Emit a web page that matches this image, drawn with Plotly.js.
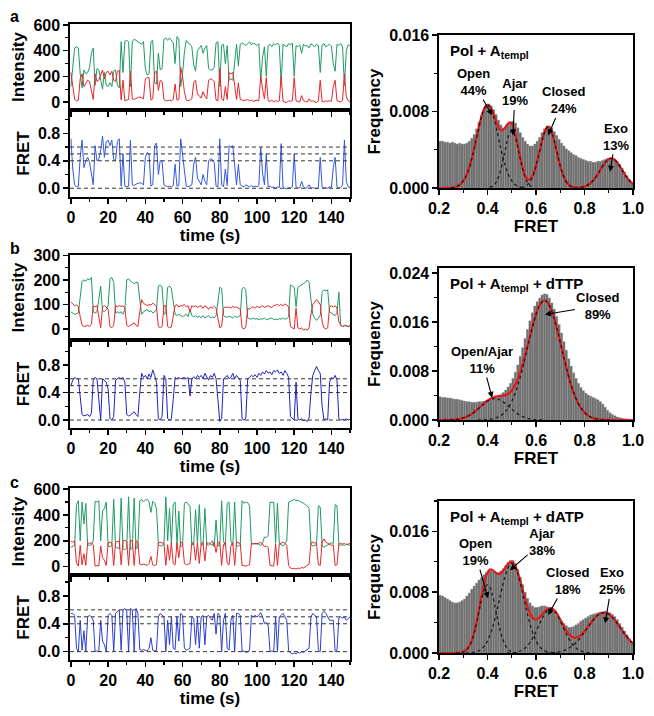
<!DOCTYPE html>
<html><head><meta charset="utf-8">
<script src="https://cdn.plot.ly/plotly-3.0.1.min.js"></script>
<style>html,body{margin:0;padding:0;background:#fff}#chart{width:654px;height:716px}</style>
</head><body><div id="chart"></div>
<script>
// ---------- time traces (1 s sampling, t = 0..150 s) ----------
const aGreen = [120,250,420,430,420,220,110,250,220,230,
 270,380,420,130,260,250,180,100,230,130,
 120,150,120,240,250,130,110,470,230,475,
 480,470,120,470,490,480,470,460,450,470,
 260,210,220,470,480,150,140,380,250,260,
 490,500,480,500,480,460,300,510,490,120,
 220,390,480,460,450,430,290,240,400,420,
 440,380,420,440,260,250,250,270,460,470,
 120,440,450,300,440,170,180,170,320,450,
 280,450,460,450,440,455,470,445,460,450,
 440,455,160,350,430,200,440,450,430,455,
 445,460,440,140,450,440,430,455,445,460,
 200,440,430,445,380,450,435,440,420,455,
 445,430,450,440,230,445,455,430,440,450,
 435,300,240,450,440,455,430,130,400,445,
 440];
const aRed = [230,100,20,10,15,180,220,120,150,170,
 160,90,20,220,160,170,220,250,180,230,
 240,210,240,170,160,240,245,15,170,10,
 15,20,240,25,20,30,35,40,35,25,
 180,190,190,15,25,230,240,90,170,160,
 20,10,10,15,10,20,140,15,20,270,
 200,80,15,10,15,25,150,170,60,50,
 30,80,45,25,170,180,175,160,15,10,
 260,25,10,120,20,230,220,230,130,20,
 150,20,15,10,15,20,10,15,5,10,
 15,10,200,100,25,190,10,5,15,0,
 10,5,10,200,5,0,-5,10,5,10,
 190,10,5,0,50,10,5,0,25,5,
 10,0,-5,10,170,5,0,10,5,10,
 5,120,170,10,5,0,15,220,40,10,
 5];
const aFret = [0.72,0.28,0.05,0.02,0.03,0.45,0.70,0.30,0.40,0.45,
 0.38,0.20,0.05,0.62,0.40,0.42,0.55,0.76,0.45,0.68,
 0.70,0.62,0.70,0.42,0.40,0.68,0.72,0.03,0.50,0.03,
 0.02,0.03,0.70,0.05,0.04,0.06,0.07,0.08,0.07,0.05,
 0.45,0.52,0.50,0.03,0.05,0.62,0.66,0.20,0.40,0.40,
 0.05,0.03,0.02,0.03,0.02,0.04,0.35,0.03,0.04,0.72,
 0.50,0.20,0.03,0.02,0.03,0.05,0.35,0.45,0.15,0.10,
 0.05,0.20,0.10,0.05,0.40,0.43,0.42,0.38,0.03,0.02,
 0.72,0.05,0.02,0.28,0.04,0.62,0.60,0.62,0.30,0.05,
 0.35,0.05,0.03,0.02,0.05,0.03,0.02,0.04,0.02,0.03,
 0.02,0.04,0.60,0.22,0.05,0.50,0.02,0.03,0.01,0.02,
 0.00,0.02,0.01,0.65,0.02,0.00,-0.01,0.01,0.00,0.02,
 0.50,0.02,0.00,0.01,0.10,0.02,0.00,0.01,0.05,0.00,
 0.01,0.00,-0.01,0.02,0.45,0.02,0.00,0.01,0.00,0.02,
 0.01,0.30,0.45,0.02,0.00,0.01,0.05,0.70,0.10,0.02,
 0.01];

const bGreen = [70,65,60,62,65,130,195,200,195,205,
 200,210,70,65,70,120,175,75,70,80,
 95,205,210,190,65,70,65,70,60,80,
 200,205,195,190,185,190,190,120,60,70,
 75,80,70,75,65,70,80,175,180,170,
 60,65,170,175,165,110,60,55,60,55,
 50,55,60,50,80,55,50,55,48,52,
 45,55,45,50,55,45,50,45,55,110,
 170,165,55,50,48,52,50,45,52,48,
 50,55,165,170,160,45,42,40,45,40,
 42,38,42,40,45,38,40,42,45,38,
 40,38,42,40,45,40,42,50,180,175,
 170,90,170,175,180,185,190,200,190,120,
 60,45,35,45,55,150,160,155,160,70,
 65,60,55,65,150,15,10,12,15,10,
 12];
const bRed = [110,100,95,98,92,50,15,10,12,15,
 10,20,95,90,95,50,5,90,95,90,
 80,10,5,15,95,90,95,92,95,85,
 15,10,15,20,25,15,10,70,120,105,
 100,95,100,98,105,100,90,10,5,10,
 95,95,10,5,8,60,95,100,90,95,
 95,100,90,95,70,95,90,95,88,92,
 95,85,95,90,80,90,85,92,85,45,
 5,10,85,90,88,90,85,92,88,90,
 85,80,5,0,8,85,80,88,90,85,
 92,88,90,95,88,92,95,90,88,95,
 98,100,95,100,95,102,98,90,10,5,
 0,85,5,0,5,-5,0,-5,5,60,
 100,110,120,110,100,30,5,0,5,90,
 95,90,95,85,30,15,10,15,12,10,
 15];
const bFret = [0.50,0.58,0.62,0.60,0.60,0.35,0.08,0.06,0.07,0.08,
 0.05,0.10,0.58,0.62,0.60,0.30,0.00,0.60,0.58,0.55,
 0.45,0.02,0.00,0.05,0.58,0.60,0.62,0.60,0.62,0.55,
 0.08,0.06,0.07,0.10,0.12,0.08,0.05,0.40,0.68,0.62,
 0.65,0.60,0.67,0.62,0.73,0.65,0.55,0.02,0.00,0.05,
 0.65,0.60,0.02,0.00,0.02,0.30,0.62,0.60,0.62,0.60,
 0.61,0.62,0.60,0.62,0.35,0.60,0.63,0.60,0.65,0.62,
 0.65,0.60,0.68,0.62,0.58,0.65,0.62,0.68,0.60,0.30,
 -0.02,0.02,0.60,0.62,0.65,0.60,0.62,0.68,0.60,0.65,
 0.62,0.58,0.02,0.00,0.03,0.60,0.62,0.65,0.63,0.66,
 0.62,0.68,0.65,0.70,0.67,0.72,0.68,0.70,0.66,0.72,
 0.70,0.73,0.68,0.70,0.65,0.72,0.68,0.62,0.05,0.02,
 0.00,0.55,0.02,0.00,0.02,-0.01,0.00,-0.02,0.03,0.40,
 0.65,0.72,0.78,0.72,0.68,0.20,0.00,0.02,0.00,0.55,
 0.62,0.60,0.65,0.58,0.02,0.00,0.01,0.00,0.02,0.00,
 0.01];

const cGreen = [150,155,165,480,510,200,500,330,490,170,
 165,170,200,505,500,510,200,430,450,500,
 160,155,165,520,150,145,140,530,140,130,
 145,540,135,140,530,135,160,510,520,500,
 515,520,500,420,505,490,450,170,160,165,
 170,540,200,450,170,480,500,170,430,155,
 165,490,500,480,470,170,175,440,170,480,
 170,165,450,175,165,180,200,155,360,160,
 165,510,200,160,490,500,200,165,500,160,
 160,170,510,490,500,495,470,175,180,175,
 180,175,160,185,230,225,240,500,495,500,
 180,490,180,170,160,175,200,500,505,515,
 520,510,515,505,500,490,480,470,450,170,
 160,165,170,470,460,160,150,160,170,180,
 185,180,480,470,170,165,170,165,175,170,
 165];
const cRed = [195,190,200,30,5,165,15,100,10,185,
 180,185,170,5,10,5,160,70,50,10,
 185,190,185,10,190,195,200,15,200,205,
 195,10,205,200,10,200,190,20,15,20,
 15,10,25,80,15,10,15,185,190,185,
 180,10,170,50,185,25,15,180,70,190,
 185,25,15,20,25,185,180,50,185,25,
 180,185,45,180,185,175,165,190,110,190,
 185,10,170,190,25,15,165,185,10,190,
 185,180,10,5,5,10,15,180,175,180,
 175,180,190,175,155,160,150,10,10,5,
 175,10,175,180,190,180,165,10,-10,-15,
 -12,-18,-10,-15,-5,-10,0,5,20,185,
 190,185,180,15,10,190,215,190,180,170,
 165,170,10,15,175,180,175,180,170,175,
 180];
const cFret = [0.55,0.55,0.52,0.05,0.00,0.45,0.02,0.30,0.00,0.50,
 0.52,0.50,0.45,0.00,0.01,0.00,0.45,0.15,0.10,0.00,
 0.52,0.55,0.52,0.00,0.55,0.58,0.60,0.02,0.60,0.62,
 0.58,0.00,0.62,0.60,0.00,0.62,0.55,0.03,0.02,0.03,
 0.02,0.01,0.05,0.20,0.02,0.01,0.02,0.50,0.55,0.53,
 0.50,0.00,0.45,0.10,0.50,0.05,0.03,0.50,0.15,0.55,
 0.52,0.05,0.02,0.03,0.05,0.50,0.48,0.10,0.50,0.05,
 0.50,0.52,0.10,0.50,0.52,0.48,0.45,0.55,0.25,0.55,
 0.52,0.00,0.45,0.55,0.05,0.02,0.45,0.52,0.00,0.55,
 0.55,0.52,0.00,0.01,-0.01,0.00,0.02,0.52,0.50,0.52,
 0.50,0.52,0.56,0.50,0.40,0.42,0.38,0.00,0.01,0.00,
 0.50,0.00,0.50,0.52,0.55,0.50,0.45,0.02,-0.02,-0.03,
 -0.02,-0.03,-0.01,-0.02,0.00,-0.01,0.01,0.02,0.05,0.50,
 0.55,0.52,0.50,0.02,0.00,0.55,0.58,0.55,0.50,0.45,
 0.45,0.45,0.00,0.02,0.48,0.50,0.48,0.50,0.45,0.48,
 0.50];

const fretLevels = [0, 0.4, 0.5, 0.6];

// ---------- FRET histograms (bins of 0.01 from 0.20 to 1.00) ----------
const aHist = [0.0049,0.0049,0.0048,0.0048,0.0047,0.0048,0.0047,0.0046,0.0047,0.0046,
 0.0046,0.0047,0.0049,0.0052,0.0056,0.0062,0.0069,0.0076,0.0082,0.0087,
 0.0088,0.0086,0.0082,0.0077,0.0071,0.0066,0.0063,0.0064,0.0067,0.0069,
 0.0070,0.0068,0.0063,0.0058,0.0053,0.0049,0.0046,0.0044,0.0044,0.0046,
 0.0049,0.0053,0.0058,0.0062,0.0065,0.0065,0.0063,0.0059,0.0055,0.0051,
 0.0047,0.0044,0.0041,0.0039,0.0037,0.0035,0.0034,0.0032,0.0031,0.0030,
 0.0029,0.0028,0.0028,0.0027,0.0027,0.0028,0.0028,0.0029,0.0030,0.0031,
 0.0031,0.0031,0.0030,0.0028,0.0025,0.0021,0.0017,0.0013,0.0009,0.0006];
const bHist = [0.0038,0.0037,0.0037,0.0036,0.0036,0.0035,0.0034,0.0034,0.0033,0.0032,
 0.0031,0.0030,0.0030,0.0029,0.0029,0.0029,0.0030,0.0030,0.0031,0.0032,
 0.0033,0.0034,0.0036,0.0037,0.0039,0.0042,0.0045,0.0049,0.0054,0.0060,
 0.0068,0.0078,0.0090,0.0104,0.0118,0.0133,0.0148,0.0162,0.0175,0.0186,
 0.0193,0.0199,0.0204,0.0206,0.0205,0.0199,0.0191,0.0181,0.0169,0.0156,
 0.0142,0.0128,0.0114,0.0100,0.0088,0.0077,0.0068,0.0060,0.0053,0.0048,
 0.0044,0.0041,0.0039,0.0037,0.0035,0.0033,0.0030,0.0026,0.0021,0.0016,
 0.0012,0.0009,0.0007,0.0005,0.0004,0.0003,0.0002,0.0002,0.0001,0.0001];
const cHist = [0.0076,0.0075,0.0073,0.0071,0.0069,0.0067,0.0066,0.0066,0.0067,0.0069,
 0.0071,0.0075,0.0079,0.0084,0.0088,0.0092,0.0096,0.0099,0.0103,0.0106,
 0.0108,0.0108,0.0107,0.0106,0.0106,0.0108,0.0111,0.0115,0.0119,0.0122,
 0.0122,0.0118,0.0110,0.0100,0.0090,0.0080,0.0072,0.0066,0.0062,0.0060,
 0.0060,0.0061,0.0062,0.0062,0.0061,0.0059,0.0057,0.0054,0.0050,0.0046,
 0.0042,0.0039,0.0036,0.0034,0.0034,0.0035,0.0037,0.0039,0.0042,0.0044,
 0.0046,0.0048,0.0050,0.0051,0.0052,0.0053,0.0054,0.0054,0.0055,0.0054,
 0.0053,0.0051,0.0048,0.0044,0.0039,0.0034,0.0029,0.0024,0.0019,0.0015];

// ---------- fitted curves, read at 0.01 steps ----------
const aFitSum = [0,0,0,0.00001,0.00002,0.00003,0.00007,0.00013,0.00025,0.00044,
 0.00074,0.00117,0.00179,0.00259,0.00358,0.00469,0.00586,0.00697,0.00788,0.00849,
 0.0087,0.0085,0.00805,0.00737,0.00667,0.00618,0.00605,0.00623,0.0066,0.00685,
 0.00674,0.00612,0.00506,0.00379,0.00259,0.00163,0.00105,0.00087,0.00103,0.00154,
 0.00232,0.00333,0.00444,0.00543,0.00614,0.0064,0.00614,0.00543,0.00444,0.00333,
 0.0023,0.00147,0.00086,0.00047,0.00024,0.00012,0.00006,0.00004,0.00005,0.00009,
 0.00016,0.00026,0.00042,0.00064,0.00092,0.00127,0.00167,0.00209,0.00248,0.00281,
 0.00303,0.0031,0.00303,0.00281,0.00248,0.00209,0.00167,0.00127,0.00092,0.00064,0.00042];
const aOpen = [0.00003,0.00007,0.00013,0.00025,0.00044,0.00074,0.00117,0.00179,0.00259,0.00358,0.00469,0.00586,0.00697,0.00788,0.00849,0.0087,0.00849,0.00788,0.00697,0.00586,0.00469,0.00358,0.00259,0.00179,0.00117,0.00074,0.00044,0.00025,0.00013,0.00007,0.00003];
const aAjar = [0.00007,0.00017,0.0004,0.00081,0.00149,0.00247,0.00364,0.00481,0.00568,0.006,0.00568,0.00481,0.00364,0.00247,0.00149,0.00081,0.0004,0.00017,0.00007];
const aClosed = [0.00005,0.00011,0.00024,0.00047,0.00086,0.00147,0.0023,0.00333,0.00444,0.00543,0.00614,0.0064,0.00614,0.00543,0.00444,0.00333,0.0023,0.00147,0.00086,0.00047,0.00024,0.00011,0.00005];
const aExo = [0.00001,0.00002,0.00005,0.00009,0.00016,0.00026,0.00042,0.00064,0.00092,0.00127,0.00167,0.00209,0.00248,0.00281,0.00303,0.0031,0.00303,0.00281,0.00248,0.00209,0.00167,0.00127,0.00092,0.00064,0.00042];
const aCompStart = [0.25, 0.41, 0.54, 0.76];

const bFitSum = [0,0,0.00001,0.00001,0.00002,0.00004,0.00006,0.0001,0.00015,0.00023,
 0.00033,0.00047,0.00065,0.00087,0.00114,0.00144,0.00178,0.00214,0.0025,0.00284,
 0.00316,0.00342,0.00362,0.00377,0.00386,0.0039,0.00395,0.00401,0.00415,0.0044,
 0.00481,0.0054,0.00619,0.0072,0.00841,0.00979,0.01131,0.01291,0.01446,0.01595,
 0.01727,0.01833,0.01908,0.01946,0.01946,0.01906,0.01829,0.01721,0.01585,0.01431,
 0.01268,0.01098,0.00932,0.00776,0.00633,0.00505,0.00396,0.00304,0.00228,0.00168,
 0.00121,0.00086,0.00059,0.00041,0.00027,0.00017,0.00011,0.00007,0.00004,0.00003,
 0.00002,0.00001,0,0,0,0,0,0,0,0,0];
const bOpenAjar = [0.00001,0.00001,0.00002,0.00004,0.00006,0.0001,0.00015,0.00023,0.00033,0.00047,0.00065,0.00087,0.00114,0.00144,0.00177,0.00212,0.00247,0.0028,0.00309,0.00331,0.00345,0.0035,0.00345,0.00331,0.00309,0.0028,0.00247,0.00212,0.00177,0.00144,0.00114,0.00087,0.00065,0.00047,0.00033,0.00023,0.00015,0.0001,0.00006,0.00004,0.00002,0.00001,0.00001];
const bClosed = [0.00001,0.00002,0.00003,0.00004,0.00007,0.00011,0.00017,0.00027,0.00041,0.00059,0.00086,0.00121,0.00168,0.00228,0.00304,0.00396,0.00505,0.00633,0.00776,0.00932,0.01098,0.01268,0.01431,0.01585,0.01721,0.01829,0.01906,0.01945,0.01945,0.01906,0.01829,0.01721,0.01585,0.01431,0.01268,0.01098,0.00932,0.00776,0.00633,0.00505,0.00396,0.00304,0.00228,0.00168,0.00121,0.00086,0.00059,0.00041,0.00027,0.00017,0.00011,0.00007,0.00004,0.00003,0.00002,0.00001];
const bCompStart = [0.22, 0.36];

const cFitSum = [0,0,0,0,0,0,0,0.00001,0.00003,0.00006,
 0.00015,0.00034,0.00068,0.00126,0.00214,0.00337,0.00492,0.00664,0.0083,0.00969,
 0.01059,0.01098,0.01092,0.01067,0.01044,0.0104,0.01064,0.01107,0.01156,0.01191,
 0.01198,0.01168,0.01103,0.01006,0.0089,0.00768,0.00653,0.00558,0.00489,0.00452,
 0.00441,0.00457,0.00487,0.00524,0.00559,0.00583,0.00591,0.00578,0.00546,0.00498,
 0.0044,0.0038,0.00321,0.00272,0.00233,0.00209,0.002,0.00206,0.00224,0.00252,
 0.00287,0.00327,0.0037,0.00413,0.00451,0.00483,0.00509,0.00525,0.0053,0.00525,
 0.00509,0.00483,0.0045,0.00411,0.00367,0.00321,0.00276,0.00232,0.00191,0.00154,0.00122];
const cOpen = [0.00001,0.00003,0.00006,0.00015,0.00033,0.00066,0.00122,0.00207,0.00324,0.00469,0.00624,0.00764,0.00864,0.009,0.00864,0.00764,0.00624,0.00469,0.00324,0.00207,0.00122,0.00066,0.00033,0.00015,0.00006,0.00003,0.00001];
const cAjar = [0.00001,0.00002,0.00004,0.00007,0.00013,0.00023,0.0004,0.00066,0.00105,0.00159,0.00234,0.00328,0.00443,0.00575,0.00716,0.00857,0.00985,0.01089,0.01156,0.0118,0.01156,0.01089,0.00985,0.00857,0.00716,0.00575,0.00443,0.00328,0.00234,0.00159,0.00105,0.00066,0.0004,0.00023,0.00013,0.00007,0.00004,0.00002,0.00001];
const cClosed = [0.00001,0.00002,0.00003,0.00006,0.00011,0.0002,0.00033,0.00052,0.00078,0.00115,0.00161,0.00218,0.00282,0.00352,0.00421,0.00484,0.00535,0.00568,0.0058,0.00568,0.00535,0.00484,0.00421,0.00352,0.00282,0.00218,0.00161,0.00115,0.00078,0.00052,0.00033,0.0002,0.00011,0.00006,0.00003,0.00002,0.00001];
const cExo = [0.00001,0.00002,0.00004,0.00006,0.00009,0.00013,0.00019,0.00028,0.00039,0.00054,0.00072,0.00094,0.00122,0.00154,0.00191,0.00232,0.00276,0.00321,0.00367,0.00411,0.0045,0.00483,0.00509,0.00525,0.0053,0.00525,0.00509,0.00483,0.0045,0.00411,0.00367,0.00321,0.00276,0.00232,0.00191,0.00154,0.00122];
const cCompStart = [0.27, 0.31, 0.48, 0.64];

// ---------- labels ----------
const panelLetters = ['a', 'b', 'c'];
const histTitles = ['Pol + A<sub>templ</sub>', 'Pol + A<sub>templ</sub> + dTTP', 'Pol + A<sub>templ</sub> + dATP'];
const aLabels = ['Open<br>44%', 'Ajar<br>19%', 'Closed<br>24%', 'Exo<br>13%'];
const bLabels = ['Open/Ajar<br>11%', 'Closed<br>89%'];
const cLabels = ['Open<br>19%', 'Ajar<br>38%', 'Closed<br>18%', 'Exo<br>25%'];
// arrow tips (FRET, frequency)
const aTips = [[0.419, 0.0076], [0.505, 0.0055], [0.65, 0.0055], [0.905, 0.0017]];
const bTips = [[0.419, 0.0036], [0.637, 0.0172]];
const cTips = [[0.402, 0.0072], [0.493, 0.0109], [0.65, 0.0050], [0.885, 0.0039]];

// ---------- styling ----------
const FONT = 'Liberation Sans, Arial, sans-serif';
const GREEN = '#1f9a63', RED = '#e8262a';
const BLUES = ['#3358dc', '#1e22c4', '#2a3ed0'];
const tickFont = {family: FONT, size: 16, weight: 'bold', color: '#000'};
const titleFont = {family: FONT, size: 17, weight: 'bold', color: '#000'};
function axis(extra) {
  return Object.assign({
    showline: true, linecolor: '#000', linewidth: 1.6, mirror: true,
    ticks: 'outside', tickcolor: '#000', tickwidth: 1.5, ticklen: 5,
    showgrid: false, zeroline: false, tickfont: tickFont, fixedrange: true
  }, extra);
}
function minor(d) { return {dtick: d, ticks: 'outside', ticklen: 3, tickcolor: '#000', tickwidth: 1.2}; }

const traceX = [0.1070, 0.5352];
const histX = [0.6713, 0.9679];
const rows = [
  {int: [0.8464, 0.9665], fr: [0.7249, 0.8464], hi: [0.7374, 0.9511], intR: [-62, 608], intD: 200, intM: 100, frR: [-0.127, 1.14], hiR: [0, 0.016]},
  {int: [0.5251, 0.6439], fr: [0.4022, 0.5251], hi: [0.4134, 0.6257], intR: [-45, 302], intD: 100, intM: 50, frR: [-0.116, 1.164], hiR: [0, 0.0248]},
  {int: [0.1969, 0.3184], fr: [0.0782, 0.1969], hi: [0.0880, 0.3003], intR: [-64, 608], intD: 200, intM: 100, frR: [-0.12, 1.10], hiR: [0, 0.020]}
];
const greens = [aGreen, bGreen, cGreen], reds = [aRed, bRed, cRed], frets = [aFret, bFret, cFret];
const hists = [aHist, bHist, cHist], sums = [aFitSum, bFitSum, cFitSum];
const comps = [[aOpen, aAjar, aClosed, aExo], [bOpenAjar, bClosed], [cOpen, cAjar, cClosed, cExo]];
const compStarts = [aCompStart, bCompStart, cCompStart];
const labels = [aLabels, bLabels, cLabels];
const tips = [aTips, bTips, cTips];
// text offsets (pixels) from arrow tip
const offsets = [[[-19, -33], [2, -43], [15, -35], [6, -35]], [[-10, -38], [53, -9]], [[-13, -46], [32, -28], [19, -34], [7, -42]]];

const data = [];
const layout = {
  width: 654, height: 716, margin: {l: 0, r: 0, t: 0, b: 0},
  paper_bgcolor: '#fff', plot_bgcolor: '#fff', showlegend: false, bargap: 0,
  font: {family: FONT, color: '#000'}, shapes: [], annotations: []
};

rows.forEach((r, i) => {
  const n1 = 3 * i + 1, n2 = n1 + 1, n3 = n1 + 2;
  const xa = k => (k === 1 ? 'x' : 'x' + k), ya = k => (k === 1 ? 'y' : 'y' + k);
  const xk = k => (k === 1 ? 'xaxis' : 'xaxis' + k), yk = k => (k === 1 ? 'yaxis' : 'yaxis' + k);

  // intensity
  data.push({type: 'scatter', mode: 'lines', x0: 0, dx: 1, y: greens[i], xaxis: xa(n1), yaxis: ya(n1), line: {color: GREEN, width: 1}, hoverinfo: 'skip'});
  data.push({type: 'scatter', mode: 'lines', x0: 0, dx: 1, y: reds[i], xaxis: xa(n1), yaxis: ya(n1), line: {color: RED, width: 1}, hoverinfo: 'skip'});
  layout[xk(n1)] = axis({domain: traceX, range: [-0.5, 150], anchor: ya(n1), tick0: 0, dtick: 20, showticklabels: false, minor: minor(10)});
  layout[yk(n1)] = axis({domain: r.int, range: r.intR, anchor: xa(n1), tick0: 0, dtick: r.intD, minor: minor(r.intM),
    title: {text: 'Intensity', font: titleFont, standoff: 4}});

  // FRET trace
  data.push({type: 'scatter', mode: 'lines', x0: 0, dx: 1, y: frets[i], xaxis: xa(n2), yaxis: ya(n2), line: {color: BLUES[i], width: 1}, hoverinfo: 'skip'});
  layout[xk(n2)] = axis({domain: traceX, range: [-0.5, 150], anchor: ya(n2), tick0: 0, dtick: 20, minor: minor(10),
    title: {text: 'time (s)', font: titleFont, standoff: 0}});
  layout[yk(n2)] = axis({domain: r.fr, range: r.frR, anchor: xa(n2), tick0: 0, dtick: 0.4, tickformat: '.1f', minor: minor(0.2),
    title: {text: 'FRET', font: titleFont, standoff: 4}});
  fretLevels.forEach(v => layout.shapes.push({type: 'line', xref: xa(n2) + ' domain', yref: ya(n2), x0: 0, x1: 1, y0: v, y1: v,
    line: {color: '#333', width: 1, dash: '4px,3px'}, layer: 'above'}));

  // histogram
  data.push({type: 'bar', x0: 0.205, dx: 0.01, y: hists[i], width: 0.01, xaxis: xa(n3), yaxis: ya(n3),
    marker: {color: '#6e6e6e', line: {color: '#9c9c9c', width: 0.3}}, hoverinfo: 'skip'});
  data.push({type: 'scatter', mode: 'lines', x0: 0.2, dx: 0.01, y: sums[i], xaxis: xa(n3), yaxis: ya(n3),
    line: {color: '#e31a1c', width: 2.2, shape: 'spline', smoothing: 0.6}, hoverinfo: 'skip'});
  comps[i].forEach((c, j) => data.push({type: 'scatter', mode: 'lines', x0: compStarts[i][j], dx: 0.01, y: c, xaxis: xa(n3), yaxis: ya(n3),
    line: {color: '#1a1a1a', width: 1.3, dash: 'dot', shape: 'spline', smoothing: 0.6}, hoverinfo: 'skip'}));
  layout[xk(n3)] = axis({domain: histX, range: [0.2, 1.0], anchor: ya(n3), tick0: 0.2, dtick: 0.2, tickformat: '.1f', minor: minor(0.1),
    title: {text: 'FRET', font: titleFont, standoff: 4}});
  layout[yk(n3)] = axis({domain: r.hi, range: r.hiR, anchor: xa(n3), tick0: 0, dtick: 0.008, tickformat: '.3f', minor: minor(0.004),
    title: {text: 'Frequency', font: titleFont, standoff: 4}});

  layout.annotations.push({xref: xa(n3) + ' domain', yref: ya(n3) + ' domain', x: 0.045, y: 0.965, xanchor: 'left', yanchor: 'top',
    text: histTitles[i], showarrow: false, font: {family: FONT, size: 15, weight: 'bold', color: '#000'}});
  labels[i].forEach((t, j) => layout.annotations.push({xref: xa(n3), yref: ya(n3), x: tips[i][j][0], y: tips[i][j][1],
    ax: offsets[i][j][0], ay: offsets[i][j][1], text: t, showarrow: true, arrowhead: 2, arrowsize: 1.1, arrowwidth: 1.1,
    arrowcolor: '#000', standoff: 0, font: {family: FONT, size: 13, weight: 'bold', color: '#000'}}));

  // panel letter
  layout.annotations.push({xref: 'paper', yref: 'paper', x: 8 / 654, y: 1 - [6, 238, 472][i] / 716, xanchor: 'left', yanchor: 'top',
    text: panelLetters[i], showarrow: false, font: {family: FONT, size: 16, weight: 'bold', color: '#000'}});
});

Plotly.newPlot('chart', data, layout, {staticPlot: true, displayModeBar: false});
</script></body></html>
